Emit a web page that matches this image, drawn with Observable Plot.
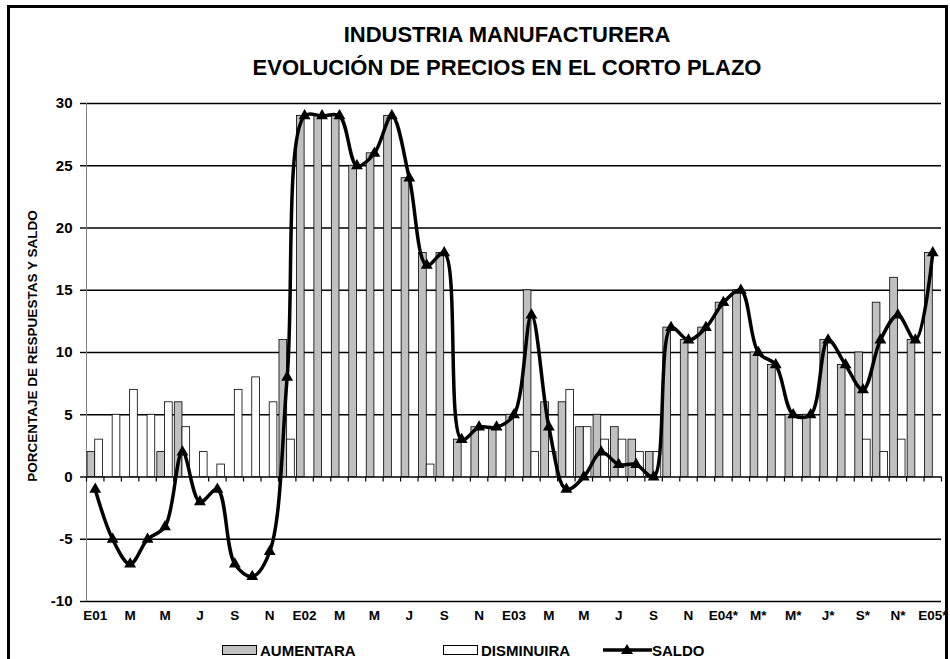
<!DOCTYPE html>
<html>
<head>
<meta charset="utf-8">
<script src="https://cdn.jsdelivr.net/npm/d3@7"></script>
<script src="https://cdn.jsdelivr.net/npm/@observablehq/plot@0.6"></script>
<style>
  body { margin: 0; background: #fff; font-family: "Liberation Sans", Arial, sans-serif; }
  #wrap { position: relative; width: 950px; height: 659px; overflow: hidden; background: #fff; }
  #frame { position: absolute; left: 7px; top: 5px; width: 941px; height: 720px; border: 3px solid #000; box-sizing: border-box; }
  .title { position: absolute; left: 207px; width: 600px; text-align: center; font-weight: bold; font-size: 22px; line-height: 22px; color: #000; white-space: nowrap; }
  #chart { position: absolute; left: 0; top: 90px; }
  .ylab { position: absolute; width: 320px; left: -127px; top: 339px; text-align: center; font-weight: bold; font-size: 13.5px; line-height: 14px; transform: rotate(-90deg); transform-origin: 50% 50%; white-space: nowrap; }
  .leg { position: absolute; font-weight: bold; font-size: 15px; line-height: 15px; white-space: nowrap; }
  .sw { position: absolute; height: 10px; width: 35px; border: 1px solid #000; box-sizing: border-box; }
</style>
</head>
<body>
<div id="wrap">
  <div id="frame"></div>
  <div class="title" style="top:24px">INDUSTRIA MANUFACTURERA</div>
  <div class="title" style="top:57px">EVOLUCIÓN DE PRECIOS EN EL CORTO PLAZO</div>
  <div class="ylab">PORCENTAJE DE RESPUESTAS Y SALDO</div>
  <div id="chart"></div>
  <div class="sw" style="left:222px;top:645px;background:#c0c0c0"></div>
  <div class="leg" style="left:260px;top:643px">AUMENTARA</div>
  <div class="sw" style="left:443px;top:645px;background:#fff"></div>
  <div class="leg" style="left:481px;top:643px">DISMINUIRA</div>
  <svg style="position:absolute;left:600px;top:640px" width="54" height="18">
    <line x1="3" y1="10" x2="52" y2="10" stroke="#000" stroke-width="3.5"></line>
    <path d="M27,4 L33,14 L21,14 Z" fill="#000"></path>
  </svg>
  <div class="leg" style="left:652px;top:643px">SALDO</div>
</div>
<script>
// Month labels (Jan 2001 .. Jan 2005)
const months = [
  "E01","F","M","A","M","J","J","A","S","O","N","D",
  "E02","F","M","A","M","J","J","A","S","O","N","D",
  "E03","F","M","A","M","J","J","A","S","O","N","D",
  "E04*","F*","M*","A*","M*","J*","J*","A*","S*","O*","N*","D*",
  "E05*"
];
// Tick labels shown (every other month)
const tickLabels = ["E01","M","M","J","S","N","E02","M","M","J","S","N","E03","M","M","J","S","N","E04*","M*","M*","J*","S*","N*","E05*"];
const yTicks = [-10, -5, 0, 5, 10, 15, 20, 25, 30];

const aumentara = [
  2,0,0,0,2,6,0,0,0,0,0,11,
  29,29,29,25,26,29,24,18,18,3,4,4,
  5,15,6,6,4,5,4,3,2,12,11,12,
  14,15,10,9,5,5,11,9,10,14,16,11,
  18
];
const disminuira = [
  3,5,7,5,6,4,2,1,7,8,6,3,
  0,0,0,0,0,0,0,1,0,0,0,0,
  0,2,2,7,4,3,3,2,2,0,0,0,
  0,0,0,0,0,0,0,0,3,2,3,0,
  0
];
const saldo = [
  -1,-5,-7,-5,-4,2,-2,-1,-7,-8,-6,8,
  29,29,29,25,26,29,24,17,18,3,4,4,
  5,13,4,-1,0,2,1,1,0,12,11,12,
  14,15,10,9,5,5,11,9,7,11,13,11,
  18
];

const n = months.length;
const aumData = aumentara.map((v, i) => ({i, v, m: months[i]})).filter(d => d.v !== 0);
const disData = disminuira.map((v, i) => ({i, v, m: months[i]})).filter(d => d.v !== 0);
const salData = saldo.map((v, i) => ({i, v, m: months[i]}));
const tickPos = tickLabels.map((t, k) => 2 * k + 0.5);

const chart = Plot.plot({
  width: 950,
  height: 545,
  marginLeft: 86,
  marginRight: 9,
  marginTop: 13,
  marginBottom: 34,
  x: {domain: [0, n], axis: null},
  y: {domain: [-10, 30], axis: null},
  style: {fontFamily: "'Liberation Sans', Arial, sans-serif", background: "transparent", color: "#000", overflow: "visible"},
  marks: [
    Plot.ruleY(yTicks, {stroke: "#000", strokeWidth: 1.6}),
    Plot.ruleX([0], {stroke: "#808080", strokeWidth: 1}),
    Plot.ruleX(d3.range(n + 1), {x: d => d, y1: 0, y2: 0, insetBottom: -5, stroke: "#000", strokeWidth: 1.2}),
    Plot.rect(aumData, {x1: d => d.i + 0.06, x2: d => d.i + 0.5, y1: 0, y2: d => d.v, fill: "#c0c0c0", stroke: "#000", strokeWidth: 0.8}),
    Plot.rect(disData, {x1: d => d.i + 0.5, x2: d => d.i + 0.94, y1: 0, y2: d => d.v, fill: "#fff", stroke: "#000", strokeWidth: 0.8}),
    Plot.line(salData, {x: d => d.i + 0.5, y: d => d.v, curve: "catmull-rom", stroke: "#000", strokeWidth: 3.5, strokeLinejoin: "round"}),
    Plot.dot(salData, {x: d => d.i + 0.5, y: d => d.v, symbol: "triangle", r: 4.4, fill: "#000", stroke: "none"}),
    Plot.axisY({ticks: yTicks, tickFormat: d => String(d), tickSize: 6, tickPadding: 8, fontSize: 15, fontWeight: "bold", label: null, stroke: "#000", strokeWidth: 1.4}),
    Plot.axisX({ticks: tickPos, tickFormat: d => tickLabels[Math.round((d - 0.5) / 2)], tickSize: 0, tickPadding: 9, fontSize: 13.5, fontWeight: "bold", label: null})
  ]
});
document.getElementById("chart").appendChild(chart);
</script>
</body>
</html>
